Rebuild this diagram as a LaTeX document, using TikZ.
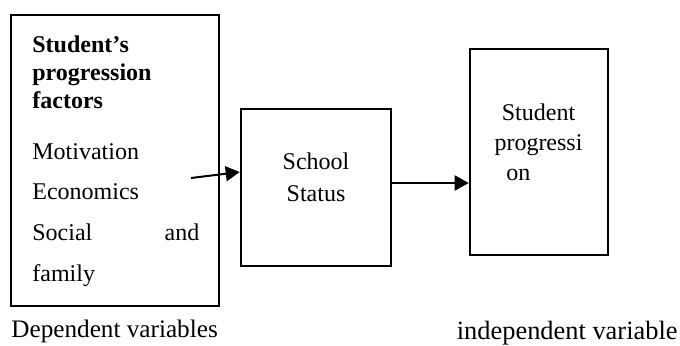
\documentclass[tikz,border=0pt]{standalone}
\usepackage{fontspec}
\setmainfont{Liberation Serif}
\usetikzlibrary{arrows.meta,positioning,calc}
\newcommand{\bodysize}{\fontsize{12pt}{14pt}\selectfont}
\tikzset{
    block/.style={
        draw,
        rectangle,
        line width=1.3pt,
        inner sep=0pt
    },
    txt/.style={
        inner sep=0pt,
        anchor=base west,
        font=\bodysize
    },
    ctxt/.style={
        inner sep=0pt,
        anchor=base,
        font=\bodysize
    },
    heading/.style={
        txt,
        font=\bodysize\bfseries
    },
    caption/.style={
        txt,
        font=\fontsize{#1}{14pt}\selectfont
    },
    link/.style={
        line width=1pt,
        -{Triangle[length=7pt,width=7.5pt]}
    },
}

\begin{document}
\begin{tikzpicture}[x=0.5pt, y=-0.5pt]
    \useasboundingbox (0,0) rectangle (680,345);

    % blocks
    \node[block, minimum width=104pt, minimum height=145.5pt] (factors) at (115,160.5) {};
    \node[block, minimum width=75pt, minimum height=78.5pt] (status) at (316,187.5) {};
    \node[block, minimum width=69pt, minimum height=103pt] (progress) at (539,152) {};

    % texts of the factors block
    \node[heading] (hStudent) at (32,52) {Student’s};
    \node[heading] (hProgression) at (32,80) {progression};
    \node[heading] (hFactors) at (32,108) {factors};
    \node[txt] (motivation) at (32,159) {Motivation};
    \node[txt] (economics) at (32,199.5) {Economics};
    \node[txt] (social) at (32,240) {\makebox[83.5pt][s]{Social\hfill and}};
    \node[txt] (family) at (32,281) {family};

    % texts of the other blocks
    \node[ctxt] (school) at (316,169) {School};
    \node[ctxt] (schoolStatus) at (316,201) {Status};
    \node[ctxt] (student) at (538.5,120) {Student};
    \node[ctxt] (progressi) at (538.5,150) {progressi};
    \node[txt] (on) at (506,180) {on};

    % captions
    \node[caption=12.6pt] (dependent) at (11,337) {Dependent variables};
    \node[caption=13.2pt] (independent) at (456.5,339) {independent variable};

    % lines
    \coordinate (src) at (191,178);
    \draw[link] (src) -- ([yshift=7.75pt]status.west);
    \draw[link] ([yshift=2.25pt]status.east) -- ([yshift=2.25pt]status.east -| progress.west);

\end{tikzpicture}
\end{document}
